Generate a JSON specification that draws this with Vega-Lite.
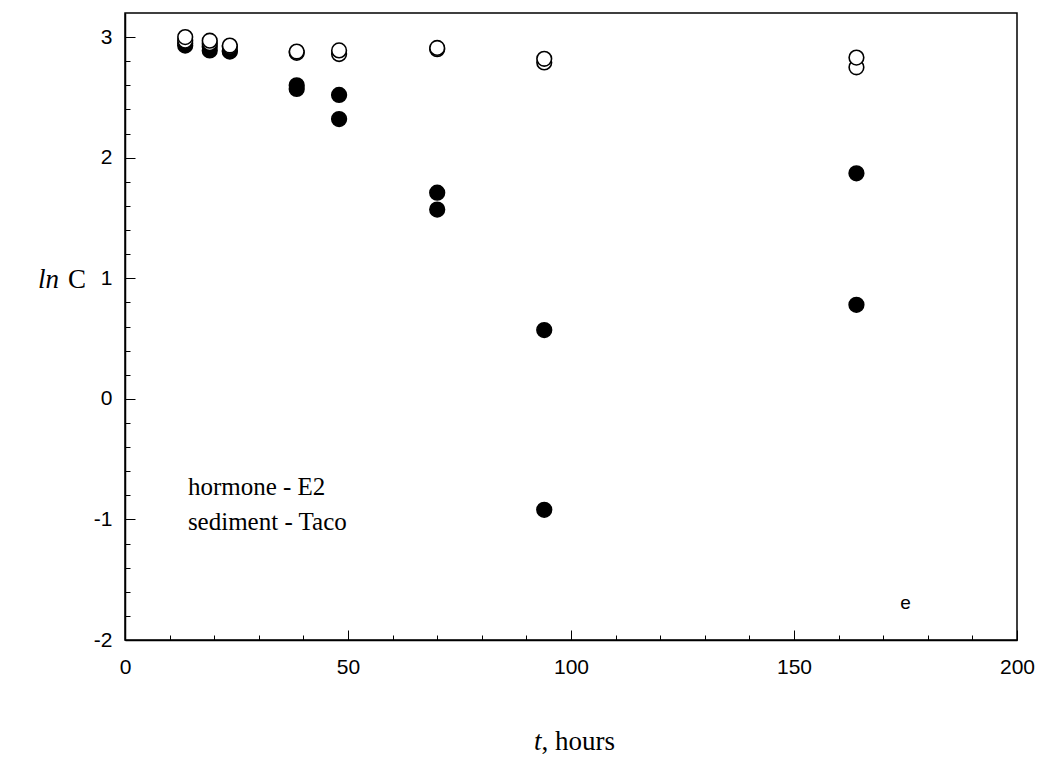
{
  "$schema": "https://vega.github.io/schema/vega-lite/v6.json",
  "width": 892,
  "height": 627,
  "autosize": {"type": "none"},
  "padding": {"left": 125, "top": 13, "right": 23, "bottom": 127},
  "background": "white",
  "config": {
    "view": {"stroke": "black", "strokeWidth": 1.5},
    "axis": {
      "domainColor": "black",
      "domainWidth": 1.5,
      "tickColor": "black",
      "tickWidth": 1,
      "grid": false,
      "labelFont": "Liberation Sans",
      "labelFontSize": 21,
      "labelColor": "black"
    }
  },
  "encoding": {
    "x": {
      "field": "t", "type": "quantitative",
      "scale": {"domain": [0, 200], "nice": false, "zero": false},
      "axis": {
        "title": null,
        "values": [0,10,20,30,40,50,60,70,80,90,100,110,120,130,140,150,160,170,180,190,200],
        "labelExpr": "datum.value % 50 === 0 ? datum.label : ''",
        "tickSize": {"condition": {"test": "datum.value % 50 === 0", "value": -10}, "value": -5},
        "labelFontSize": 21,
        "labelFont": "Liberation Sans",
        "labelPadding": 26,
        "labelFlush": false,
        "labelOverlap": false
      }
    },
    "y": {
      "field": "lnC", "type": "quantitative",
      "scale": {"domain": [-2, 3.2], "nice": false, "zero": false},
      "axis": {
        "title": null,
        "values": [-2,-1.8,-1.6,-1.4,-1.2,-1,-0.8,-0.6,-0.4,-0.2,0,0.2,0.4,0.6,0.8,1,1.2,1.4,1.6,1.8,2,2.2,2.4,2.6,2.8,3],
        "labelExpr": "abs(datum.value - round(datum.value)) < 0.001 ? ('' + round(datum.value)) : ''",
        "tickSize": {"condition": {"test": "abs(datum.value - round(datum.value)) < 0.001", "value": -10}, "value": -5},
        "labelFontSize": 21,
        "labelFont": "Liberation Sans",
        "labelPadding": 23,
        "labelOverlap": false
      }
    }
  },
  "layer": [
    {
      "data": {
        "values": [
          {"t": 13.5, "lnC": 2.95, "series": "B"},
          {"t": 13.5, "lnC": 2.93, "series": "B"},
          {"t": 19, "lnC": 2.92, "series": "B"},
          {"t": 19, "lnC": 2.89, "series": "B"},
          {"t": 23.5, "lnC": 2.89, "series": "B"},
          {"t": 23.5, "lnC": 2.88, "series": "B"},
          {"t": 38.5, "lnC": 2.6, "series": "B"},
          {"t": 38.5, "lnC": 2.57, "series": "B"},
          {"t": 48, "lnC": 2.52, "series": "B"},
          {"t": 48, "lnC": 2.32, "series": "B"},
          {"t": 70, "lnC": 1.71, "series": "B"},
          {"t": 70, "lnC": 1.57, "series": "B"},
          {"t": 94, "lnC": 0.57, "series": "B"},
          {"t": 94, "lnC": -0.92, "series": "B"},
          {"t": 164, "lnC": 1.87, "series": "B"},
          {"t": 164, "lnC": 0.78, "series": "B"},
          {"t": 13.5, "lnC": 2.97, "series": "A"},
          {"t": 13.5, "lnC": 3.0, "series": "A"},
          {"t": 19, "lnC": 2.95, "series": "A"},
          {"t": 19, "lnC": 2.97, "series": "A"},
          {"t": 23.5, "lnC": 2.92, "series": "A"},
          {"t": 23.5, "lnC": 2.93, "series": "A"},
          {"t": 38.5, "lnC": 2.87, "series": "A"},
          {"t": 38.5, "lnC": 2.88, "series": "A"},
          {"t": 48, "lnC": 2.86, "series": "A"},
          {"t": 48, "lnC": 2.89, "series": "A"},
          {"t": 70, "lnC": 2.9, "series": "A"},
          {"t": 70, "lnC": 2.91, "series": "A"},
          {"t": 94, "lnC": 2.79, "series": "A"},
          {"t": 94, "lnC": 2.82, "series": "A"},
          {"t": 164, "lnC": 2.75, "series": "A"},
          {"t": 164, "lnC": 2.83, "series": "A"}
        ]
      },
      "mark": {"type": "point", "shape": "circle", "filled": true, "size": 215, "stroke": "black", "strokeWidth": 1.6, "opacity": 1},
      "encoding": {
        "fill": {
          "field": "series", "type": "nominal",
          "scale": {"domain": ["A", "B"], "range": ["white", "black"]},
          "legend": null
        }
      }
    },
    {
      "data": {
        "values": [
          {"t": 14.1, "lnC": -0.73, "label": "hormone - E2"},
          {"t": 14.1, "lnC": -1.02, "label": "sediment - Taco"}
        ]
      },
      "mark": {"type": "text", "align": "left", "baseline": "middle", "font": "Liberation Serif", "fontSize": 25, "color": "black"},
      "encoding": {"text": {"field": "label"}}
    },
    {
      "data": {
        "values": [
          {"t": -12.8, "lnC": 0.985, "label": "C"},
          {"t": 93.4, "lnC": -2.85, "label": ", hours"}
        ]
      },
      "mark": {"type": "text", "align": "left", "baseline": "middle", "font": "Liberation Serif", "fontSize": 27, "color": "black"},
      "encoding": {"text": {"field": "label"}}
    },
    {
      "data": {
        "values": [
          {"t": -14.8, "lnC": 0.985, "label": "ln"},
          {"t": 93.4, "lnC": -2.85, "label": "t"}
        ]
      },
      "mark": {"type": "text", "align": "right", "baseline": "middle", "font": "Liberation Serif", "fontStyle": "italic", "fontSize": 27, "color": "black"},
      "encoding": {"text": {"field": "label"}}
    },
    {
      "data": {"values": [{"t": 175, "lnC": -1.69, "label": "e"}]},
      "mark": {"type": "text", "align": "center", "baseline": "middle", "font": "Liberation Sans", "fontSize": 19, "color": "black"},
      "encoding": {"text": {"field": "label"}}
    }
  ]
}
